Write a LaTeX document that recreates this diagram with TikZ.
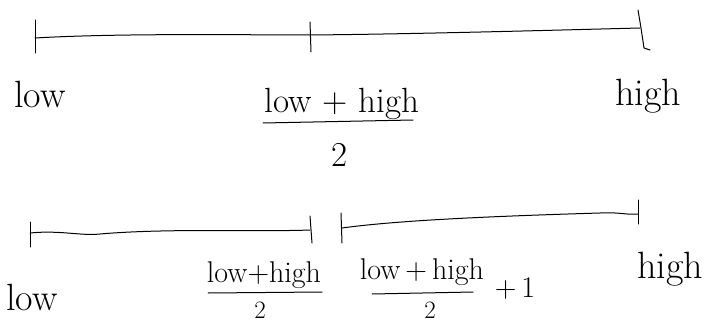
\documentclass[tikz,border=0pt]{standalone}
\begin{document}
\begin{tikzpicture}[x=1pt,y=-1pt,
  ink/.style={line width=1pt,line cap=round,line join=round},
  lbl/.style={inner sep=0pt,font=\fontsize{38}{40}\selectfont},
  numtxt/.style={inner sep=0pt,font=\fontsize{35}{37}\selectfont},
  numtxts/.style={inner sep=0pt,font=\fontsize{30}{32}\selectfont},
  dentxt/.style={inner sep=0pt,font=\fontsize{25}{27}\selectfont}]
\useasboundingbox (0,0) rectangle (706,326);
% top number line
\coordinate (tL) at (35,38);
\coordinate (tM) at (310,35);
\coordinate (tR) at (640,28);
\draw[ink] (tL) .. controls (120,33) and (250,35) .. (tM) .. controls (420,34) and (560,30) .. (tR);
\draw[ink] (35,20) -- (35,53);
\draw[ink] (310,22) -- (311,52);
\draw[ink] (638,10) -- (641,28) -- (644,48) -- (650,50);
% top labels
\node[lbl,anchor=base] (lowA) at (40,108) {low};
\node[lbl,anchor=base] (highA) at (648,106) {high};
\node[numtxt,anchor=base] (numA) at (342,113) {low + high};
\draw[ink] (263,123) -- (413,120);
\node[numtxt,anchor=base] (denA) at (340,166) {2};
% bottom left segment
\coordinate (bL1) at (30,233);
\coordinate (bR1) at (310,230);
\draw[ink] (bL1) .. controls (60,230) and (80,236) .. (100,234) .. controls (170,228) and (260,232) .. (bR1);
\draw[ink] (30,222) -- (30,247);
\draw[ink] (310,216) -- (312,243);
% bottom right segment
\coordinate (bL2) at (342,228);
\coordinate (bR2) at (638,214);
\draw[ink] (bL2) .. controls (400,220) and (500,216) .. (600,213) .. controls (620,212) and (625,215) .. (bR2);
\draw[ink] (341,213) -- (342,243);
\draw[ink] (638,200) -- (638,224);
% bottom labels
\node[lbl,anchor=base] (lowB) at (32,310) {low};
\node[numtxts,anchor=base] (numB) at (264,282) {low+high};
\draw[ink] (208,293) -- (322,292);
\node[dentxt,anchor=base] (denB) at (260,318) {2};
\node[numtxts,anchor=base] (numC) at (422,279) {low\,+\,high};
\draw[ink] (372,294) -- (473,292);
\node[dentxt,anchor=base] (denC) at (430,318) {2};
\node[numtxts,anchor=base] (plusC) at (515,297) {+\,1};
\node[lbl,anchor=base] (highB) at (670,278) {high};
\end{tikzpicture}
\end{document}
